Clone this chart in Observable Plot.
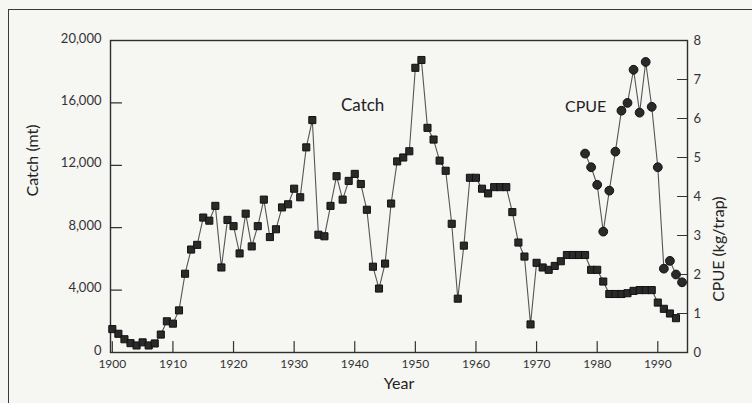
<!DOCTYPE html>
<html><head><meta charset="utf-8">
<script src="https://cdn.jsdelivr.net/npm/d3@7"></script>
<script src="https://cdn.jsdelivr.net/npm/@observablehq/plot@0.6"></script>
<style>
html,body{margin:0;padding:0;background:#f6f6f3;}
#wrap{position:relative;width:752px;height:403px;overflow:hidden}
#border{position:absolute;left:8px;top:9px;width:760px;height:420px;border-left:1.5px solid #3a3a3a;border-top:1.5px solid #3a3a3a;pointer-events:none}
#wrap svg{position:absolute;left:0;top:0}
</style></head><body><div id="wrap"><div id="border"></div></div>
<script>
const catchYears = d3.range(1900, 1994);
const catchValues = [
  1500, 1200, 850, 600, 450, 650, 450, 580, 1150, 2000,
  1850, 2700, 5050, 6600, 6900, 8650, 8450, 9400, 5450, 8500,
  8100, 6350, 8900, 6800, 8100, 9800, 7400, 7900, 9300, 9500,
  10500, 9950, 13150, 14900, 7550, 7450, 9400, 11300, 9800, 11000,
  11450, 10800, 9150, 5500, 4100, 5700, 9550, 12250, 12500, 12900,
  18250, 18750, 14400, 13650, 12300, 11650, 8250, 3450, 6850, 11200,
  11200, 10500, 10200, 10600, 10600, 10600, 9000, 7050, 6150, 1800,
  5750, 5450, 5300, 5550, 5850, 6250, 6250, 6250, 6250, 5300,
  5300, 4550, 3750, 3750, 3750, 3800, 3950, 4000, 4000, 4000,
  3200, 2800, 2500, 2200
];
const cpueYears = d3.range(1978, 1995);
const cpueValues = [5.1, 4.75, 4.3, 3.1, 4.15, 5.15, 6.2, 6.4, 7.25, 6.15, 7.45, 6.3, 4.75, 2.15, 2.35, 2.0, 1.8];
const catchTicks = [0, 4000, 8000, 12000, 16000, 20000];
const cpueTicks = [0, 1, 2, 3, 4, 5, 6, 7, 8];
const yearTicks = [1900, 1910, 1920, 1930, 1940, 1950, 1960, 1970, 1980, 1990];
const cpueMax = 8, catchMax = 20000;
const k = catchMax / cpueMax;

const catchData = catchYears.map((year, i) => ({year, value: catchValues[i]}));
const cpueData = cpueYears.map((year, i) => ({year, value: cpueValues[i]}));

const tickShape = {draw(ctx, l) { ctx.moveTo(0, 0); ctx.lineTo(0, -l); }};
const font = "Lato, 'DejaVu Sans', sans-serif";

const chart = Plot.plot({
  width: 752, height: 403,
  marginLeft: 110, marginRight: 65, marginTop: 40, marginBottom: 51,
  style: {background: "transparent", fontFamily: font, color: "#333"},
  x: {domain: [1899.7, 1994.9]},
  y: {domain: [0, catchMax]},
  marks: [
    Plot.axisY({ticks: catchTicks, tickSize: 0, tickPadding: 9, tickFormat: d3.format(","), label: null, fontSize: 13, dy: -2}),
    Plot.axisY({ticks: cpueTicks.map(d => d * k), anchor: "right", tickSize: 0, tickPadding: 6, tickFormat: d => d / k, label: null, fontSize: 13}),
    Plot.axisX({ticks: yearTicks, tickSize: 0, tickPadding: 7, tickFormat: d => String(d), label: null, fontSize: 12}),
    Plot.vector(catchTicks, {y: d => d, frameAnchor: "left", length: 11, rotate: 90, anchor: "start", shape: tickShape, stroke: "#333", strokeWidth: 1.2}),
    Plot.vector(cpueTicks, {y: d => d * k, frameAnchor: "right", length: 10, rotate: -90, anchor: "start", shape: tickShape, stroke: "#333", strokeWidth: 1.2}),
    Plot.vector(yearTicks, {x: d => d, frameAnchor: "bottom", length: 11, rotate: 0, anchor: "start", shape: tickShape, stroke: "#333", strokeWidth: 1.2}),
    Plot.frame({stroke: "#2e2e2e", strokeWidth: 1.4}),
    Plot.line(catchData, {x: "year", y: "value", stroke: "#555", strokeWidth: 1.1}),
    Plot.dot(catchData, {x: "year", y: "value", symbol: "square", r: 4, fill: "#2a2a2a", stroke: "#111", strokeWidth: 1}),
    Plot.line(cpueData, {x: "year", y: d => d.value * k, stroke: "#555", strokeWidth: 1.1}),
    Plot.dot(cpueData, {x: "year", y: d => d.value * k, symbol: "circle", r: 4.4, fill: "#2a2a2a", stroke: "#111", strokeWidth: 1}),
    Plot.text(["Catch"], {x: 1941.3, y: 15800, fontSize: 17, fill: "#222"}),
    Plot.text(["CPUE"], {x: 1978.1, y: 15750, fontSize: 16, fill: "#222"}),
    Plot.text(["Year"], {frameAnchor: "bottom", dy: 36, fontSize: 16, fill: "#222"}),
    Plot.text(["Catch (mt)"], {frameAnchor: "left", dx: -78, rotate: -90, fontSize: 16, fill: "#222"}),
    Plot.text(["CPUE (kg/trap)"], {frameAnchor: "right", dx: 31, rotate: -90, fontSize: 16, fill: "#222"})
  ]
});
document.getElementById("wrap").appendChild(chart);
</script>
</body></html>
